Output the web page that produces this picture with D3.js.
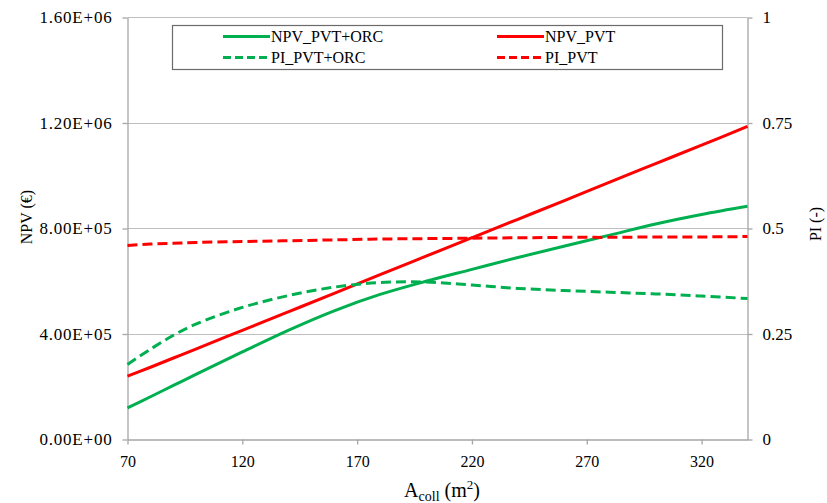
<!DOCTYPE html>
<html>
<head>
<meta charset="utf-8">
<script src="https://cdn.jsdelivr.net/npm/d3@7"></script>
<style>
  body { margin: 0; background: #fff; }
</style>
</head>
<body>
<script>
var width = 827,
    height = 503;

// collector area (m2)
var area = [70, 80, 90, 100, 120, 140, 160, 180, 200, 220, 240, 260, 280, 300, 320, 340];

// NPV (EUR)
var npvPvtOrc = [1.20e5, 1.62e5, 2.05e5, 2.48e5, 3.32e5, 4.14e5, 4.88e5, 5.50e5, 6.00e5, 6.45e5, 6.90e5, 7.33e5, 7.75e5, 8.17e5, 8.53e5, 8.84e5];
var npvPvt = [2.40e5, 2.74e5, 3.09e5, 3.44e5, 4.14e5, 4.84e5, 5.54e5, 6.25e5, 6.95e5, 7.65e5, 8.35e5, 9.05e5, 9.76e5, 1.046e6, 1.116e6, 1.187e6];

// PI (-)
var piPvtOrc = [0.178, 0.214, 0.247, 0.274, 0.313, 0.341, 0.361, 0.372, 0.373, 0.366, 0.358, 0.353, 0.349, 0.345, 0.340, 0.334];
var piPvt = [0.460, 0.463, 0.465, 0.467, 0.469, 0.471, 0.473, 0.475, 0.476, 0.477, 0.478, 0.479, 0.479, 0.480, 0.480, 0.481];

var xTicks = [70, 120, 170, 220, 270, 320];
var npvTicks = [0, 4e5, 8e5, 1.2e6, 1.6e6];
var npvTickLabels = ["0.00E+00", "4.00E+05", "8.00E+05", "1.20E+06", "1.60E+06"];
var piTicks = [0, 0.25, 0.5, 0.75, 1];
var piTickLabels = ["0", "0.25", "0.5", "0.75", "1"];

var legendNames = ["NPV_PVT+ORC", "NPV_PVT", "PI_PVT+ORC", "PI_PVT"];

var green = "#00b050",
    red = "#ff0000",
    gridColor = "#bfbfbf",
    axisColor = "#a6a6a6",
    serif = "'Liberation Serif', 'Times New Roman', Times, serif";

var margin = {top: 17.5, right: 80, bottom: 63.5, left: 127.5};
var plotW = 747.5 - margin.left,
    plotH = 439.5 - margin.top;

var svg = d3.select("body").append("svg")
    .attr("width", width)
    .attr("height", height)
    .style("font-family", serif);

var g = svg.append("g")
    .attr("transform", "translate(" + margin.left + "," + margin.top + ")");

var x = d3.scaleLinear().domain([70, 340]).range([0, plotW]);
var yL = d3.scaleLinear().domain([0, 1.6e6]).range([plotH, 0]);
var yR = d3.scaleLinear().domain([0, 1]).range([plotH, 0]);

/* horizontal gridlines */
g.selectAll(".grid")
    .data(npvTicks.slice(1))
    .enter().append("line")
    .attr("x1", 0)
    .attr("x2", plotW)
    .attr("y1", function (d) { return Math.round(yL(d)); })
    .attr("y2", function (d) { return Math.round(yL(d)); })
    .attr("stroke", gridColor)
    .attr("stroke-width", 1.2);

/* axes */
function styleAxis(sel, size) {
    sel.attr("font-family", serif).attr("font-size", size);
    sel.select(".domain").attr("stroke", axisColor).attr("stroke-width", 1.3);
    sel.selectAll(".tick line").attr("stroke", axisColor).attr("stroke-width", 1.3);
    sel.selectAll(".tick text").attr("fill", "#000");
}

var xAxis = g.append("g")
    .attr("transform", "translate(0," + plotH + ")")
    .call(d3.axisBottom(x).tickValues(xTicks).tickSize(5).tickSizeOuter(0).tickPadding(11));
styleAxis(xAxis, 16);

var yAxisL = g.append("g")
    .call(d3.axisLeft(yL).tickValues(npvTicks).tickSize(5).tickSizeOuter(0).tickPadding(10)
        .tickFormat(function (d, i) { return npvTickLabels[i]; }));
styleAxis(yAxisL, 17);
yAxisL.selectAll(".tick text").attr("letter-spacing", 0.8);

var yAxisR = g.append("g")
    .attr("transform", "translate(" + plotW + ",0)")
    .call(d3.axisRight(yR).tickValues(piTicks).tickSize(5).tickSizeOuter(0).tickPadding(10)
        .tickFormat(function (d, i) { return piTickLabels[i]; }));
styleAxis(yAxisR, 17);

/* lines */
var series = [
    {name: legendNames[0], values: npvPvtOrc, y: yL, color: green, dash: null},
    {name: legendNames[1], values: npvPvt, y: yL, color: red, dash: null},
    {name: legendNames[2], values: piPvtOrc, y: yR, color: green, dash: "10,5"},
    {name: legendNames[3], values: piPvt, y: yR, color: red, dash: "10,5"}
];

series.forEach(function (s) {
    var line = d3.line()
        .x(function (d, i) { return x(area[i]); })
        .y(function (d) { return s.y(d); })
        .curve(d3.curveCatmullRom.alpha(0.5));
    g.append("path")
        .datum(s.values)
        .attr("d", line)
        .attr("fill", "none")
        .attr("stroke", s.color)
        .attr("stroke-width", 3)
        .attr("stroke-dasharray", s.dash);
});

/* legend */
var legend = svg.append("g");
legend.append("rect")
    .attr("x", 172.5)
    .attr("y", 25.5)
    .attr("width", 550)
    .attr("height", 44)
    .attr("fill", "#fff")
    .attr("stroke", "#6b6b6b")
    .attr("stroke-width", 1.2);

var legPos = [[223, 36.5], [497, 36.5], [223, 57.5], [497, 57.5]];
var legItem = legend.selectAll(".leg")
    .data(series)
    .enter().append("g")
    .attr("transform", function (d, i) { return "translate(" + legPos[i][0] + "," + legPos[i][1] + ")"; });

legItem.append("line")
    .attr("x1", 0)
    .attr("x2", 47)
    .attr("stroke", function (d) { return d.color; })
    .attr("stroke-width", 3)
    .attr("stroke-dasharray", function (d) { return d.dash ? "8,4" : null; });

legItem.append("text")
    .attr("x", 48)
    .attr("dy", "0.35em")
    .attr("font-family", serif)
    .attr("font-size", 16)
    .text(function (d) { return d.name; });

/* axis titles */
svg.append("text")
    .attr("transform", "translate(32,217) rotate(-90)")
    .attr("text-anchor", "middle")
    .attr("font-family", serif)
    .attr("font-size", 16)
    .text("NPV (€)");

svg.append("text")
    .attr("transform", "translate(821,224) rotate(-90)")
    .attr("text-anchor", "middle")
    .attr("font-family", serif)
    .attr("font-size", 16)
    .text("PI (-)");

var xt = svg.append("text")
    .attr("x", 442)
    .attr("y", 497)
    .attr("text-anchor", "middle")
    .attr("font-family", serif)
    .attr("font-size", 20);
xt.append("tspan").text("A");
xt.append("tspan").attr("dy", 4).attr("font-size", 14).text("coll");
xt.append("tspan").attr("dy", -4).text(" (m");
xt.append("tspan").attr("dy", -8).attr("font-size", 13).text("2");
xt.append("tspan").attr("dy", 8).text(")");
</script>
</body>
</html>
